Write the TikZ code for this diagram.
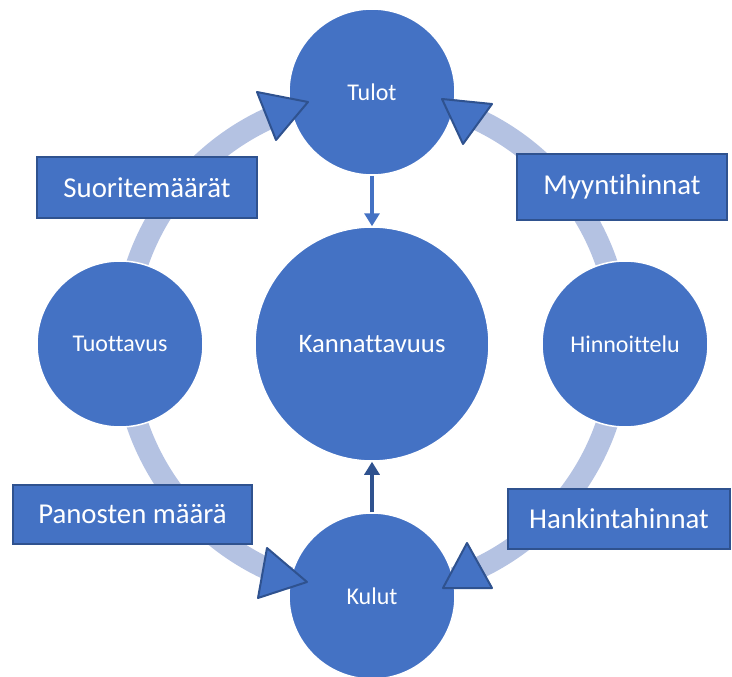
\documentclass[tikz,border=0pt]{standalone}
\usepackage{fontspec}
\setmainfont[Ligatures={NoCommon}]{Carlito}
\usetikzlibrary{arrows.meta}

\definecolor{nodeblue}{RGB}{68,114,196}
\definecolor{edgeblue}{RGB}{47,82,143}
\definecolor{ringblue}{RGB}{180,194,226}

\begin{document}
\begin{tikzpicture}[x=1pt,y=-1pt,
    hub/.style={circle,fill=nodeblue,draw=white,line width=1.5pt,inner sep=0pt,
      text=white,minimum size=#1},
    factor/.style={rectangle,fill=nodeblue,draw=edgeblue,line width=2pt,
      text=white,font=\fontsize{28.8}{32}\selectfont},
    tri/.style={fill=nodeblue,draw=edgeblue,line width=2pt,line join=round},
    link/.style={-{Triangle[width=15pt,length=13pt]},line width=3.5pt}]
  \useasboundingbox (0,0) rectangle (732,677);
  \coordinate (c) at (372,344);
  % Ring
  \draw[ringblue,line width=22pt] (c) circle (248pt);
  % Circles
  \node[hub=234pt,font=\fontsize{26.7}{30}\selectfont] (kann) at (c) {Kannattavuus};
  \node[hub=166pt,font=\fontsize{24}{28}\selectfont] (tulot) at (372,92) {Tulot};
  \node[hub=166pt,font=\fontsize{24}{28}\selectfont] (kulut) at (372,596) {Kulut};
  \node[hub=166pt,font=\fontsize{24}{28}\selectfont] (tuottavus) at (120,344) {Tuottavus};
  \node[hub=166pt,font=\fontsize{24}{28}\selectfont] (hinnoittelu) at (625,344) {Hinnoittelu};
  % Boxes
  \node[factor,minimum width=220pt,minimum height=61pt] (suorite) at (147,187.5) {Suoritemäärät};
  \node[factor,minimum width=210pt,minimum height=66pt] (myynti) at (622,187) {Myyntihinnat};
  \node[factor,minimum width=239pt,minimum height=59pt] (panos) at (132.5,514.5) {Panosten määrä};
  \node[factor,minimum width=222pt,minimum height=60pt] (hankinta) at (619,519) {Hankintahinnat};
  % Ring arrowheads
  \draw[tri] (257,92) -- (308,102) -- (276,140) -- cycle;
  \draw[tri] (442,99) -- (492,104) -- (463,144) -- cycle;
  \draw[tri] (267,548) -- (307,582) -- (258,598) -- cycle;
  \draw[tri] (467,543) -- (492,588) -- (443,588) -- cycle;
  % Links to the centre
  \draw[link,nodeblue] (tulot) -- (kann);
  \draw[link,edgeblue] (kulut) -- (kann);
\end{tikzpicture}
\end{document}
